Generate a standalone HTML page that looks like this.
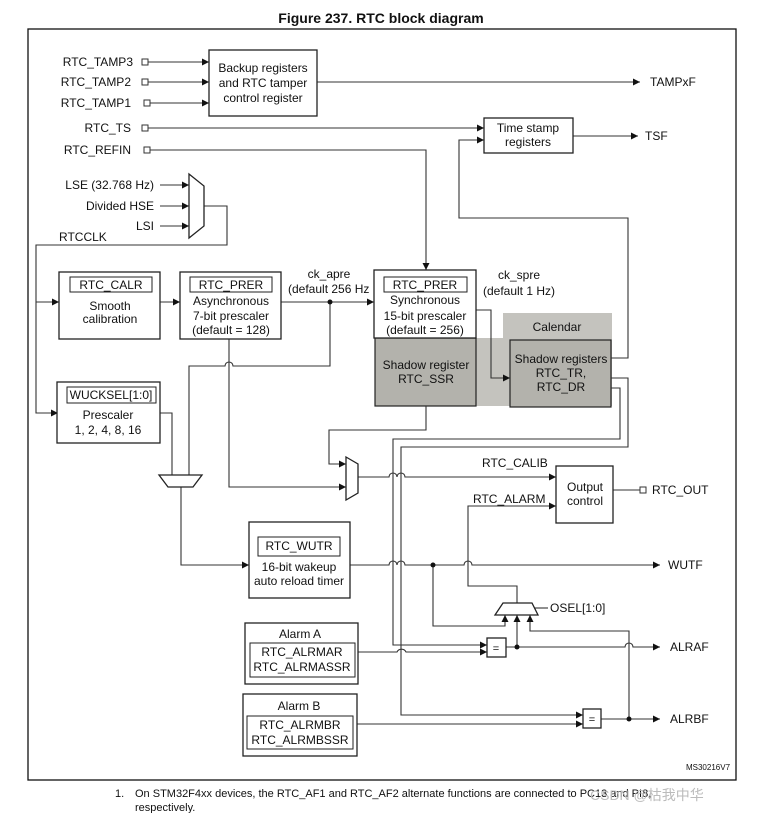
<!DOCTYPE html>
<html><head><meta charset="utf-8"><style>
html,body{margin:0;padding:0;background:#fff;}
svg{display:block;font-family:"Liberation Sans",Arial,sans-serif;}
text{font-size:12px;fill:#111;}
</style></head><body>
<svg width="763" height="813" viewBox="0 0 763 813" xmlns="http://www.w3.org/2000/svg">
<defs>
<marker id="a" viewBox="0 0 10 10" refX="10" refY="5" markerWidth="7" markerHeight="7" orient="auto" markerUnits="userSpaceOnUse"><path d="M0,0L10,5L0,10z" fill="#111"/></marker>
</defs>
<text x="381" y="23" text-anchor="middle" style="font-size:14px;font-weight:bold">Figure 237. RTC block diagram</text>
<rect x="28" y="29" width="708" height="751" fill="none" stroke="#111" stroke-width="1.3"/>

<!-- gray regions -->
<rect x="476" y="338" width="136" height="68" fill="#c4c3be"/>
<rect x="503" y="313" width="109" height="26" fill="#c4c3be"/>
<rect x="375" y="338" width="101" height="68" fill="#b3b2ac" stroke="#222" stroke-width="1.2"/>
<rect x="510" y="340" width="101" height="67" fill="#b3b2ac" stroke="#222" stroke-width="1.2"/>
<text x="557" y="331" text-anchor="middle">Calendar</text>
<text x="426" y="369" text-anchor="middle">Shadow register</text>
<text x="426" y="383" text-anchor="middle">RTC_SSR</text>
<text x="561" y="363" text-anchor="middle">Shadow registers</text>
<text x="561" y="377" text-anchor="middle">RTC_TR,</text>
<text x="561" y="391" text-anchor="middle">RTC_DR</text>

<g fill="none" stroke="#333" stroke-width="1.1">
<!-- tamper inputs -->
<path d="M148 62H209" marker-end="url(#a)"/>
<path d="M148 82H209" marker-end="url(#a)"/>
<path d="M150 103H209" marker-end="url(#a)"/>
<path d="M317 82H640" marker-end="url(#a)"/>
<path d="M148 128H484" marker-end="url(#a)"/>
<path d="M150 150H426V270" marker-end="url(#a)"/>
<path d="M573 136H638" marker-end="url(#a)"/>
<path d="M611 358H628V218H459V140H484" marker-end="url(#a)"/>
<!-- clock mux -->
<path d="M160 185H189" marker-end="url(#a)"/>
<path d="M160 206H189" marker-end="url(#a)"/>
<path d="M160 226H189" marker-end="url(#a)"/>
<path d="M204 206H227V245H36V413H58" marker-end="url(#a)"/>
<path d="M36 302H59" marker-end="url(#a)"/>
<path d="M160 302H180" marker-end="url(#a)"/>
<path d="M281 302H374" marker-end="url(#a)"/>
<path d="M476 310H491V378H510" marker-end="url(#a)"/>
<!-- ck_apre to wakeup mux -->
<path d="M330 302V366H233a4 4 0 0 0 -8 0H189V475"/>
<path d="M160 413H172V475"/>
<path d="M229 339V487H346" marker-end="url(#a)"/>
<path d="M426 406V430H329V464H346" marker-end="url(#a)"/>
<path d="M181 487V565H249" marker-end="url(#a)"/>
<!-- calendar outputs -->
<path d="M611 378H628V447H401V715H583" marker-end="url(#a)"/>
<path d="M611 388H620V439H393V645H487" marker-end="url(#a)"/>
<!-- calib -->
<path d="M358 477H389a4 4 0 0 1 8 0H397a4 4 0 0 1 8 0H556" marker-end="url(#a)"/>
<path d="M350 565H389a4 4 0 0 1 8 0H397a4 4 0 0 1 8 0H464a4 4 0 0 1 8 0H660" marker-end="url(#a)"/>
<path d="M517 603V586H468V506H556" marker-end="url(#a)"/>
<path d="M613 490H640"/>
<path d="M433 565V626H505V615" marker-end="url(#a)"/>
<path d="M517 647V615" marker-end="url(#a)"/>
<path d="M629 719V631H530V615" marker-end="url(#a)"/>
<path d="M532 608H548"/>
<!-- alarms -->
<path d="M358 652H397a5 5 0 0 1 9 0H487" marker-end="url(#a)"/>
<path d="M357 724H583" marker-end="url(#a)"/>
<path d="M506 647H625a4 4 0 0 1 8 0H660" marker-end="url(#a)"/>
<path d="M601 719H660" marker-end="url(#a)"/>
</g>
<g fill="#111">
<circle cx="330" cy="302" r="2.5"/><circle cx="433" cy="565" r="2.5"/>
<circle cx="517" cy="647" r="2.5"/><circle cx="629" cy="719" r="2.5"/>
</g>

<!-- pads -->
<g fill="#fff" stroke="#333" stroke-width="1">
<rect x="142" y="59" width="6" height="6"/><rect x="142" y="79" width="6" height="6"/>
<rect x="144" y="100" width="6" height="6"/><rect x="142" y="125" width="6" height="6"/>
<rect x="144" y="147" width="6" height="6"/><rect x="640" y="487" width="6" height="6"/>
</g>

<!-- boxes -->
<g fill="#fff" stroke="#222" stroke-width="1.3">
<rect x="209" y="50" width="108" height="66"/>
<rect x="484" y="118" width="89" height="35"/>
<rect x="59" y="272" width="101" height="67"/>
<rect x="180" y="272" width="101" height="67"/>
<rect x="374" y="270" width="102" height="68"/>
<rect x="57" y="382" width="103" height="61"/>
<rect x="249" y="522" width="101" height="76"/>
<rect x="556" y="466" width="57" height="57"/>
<rect x="245" y="623" width="113" height="61"/>
<rect x="243" y="694" width="114" height="62"/>
<rect x="487" y="638" width="19" height="19"/>
<rect x="583" y="709" width="18" height="19"/>
<path d="M189 174L204 186V226L189 238Z"/>
<path d="M346 457L358 464V493L346 500Z"/>
<path d="M159 475H202L193 487H168Z"/>
<path d="M503 603H532L538 615H495Z"/>
</g>
<g fill="none" stroke="#222" stroke-width="1">
<rect x="70" y="277" width="82" height="15"/>
<rect x="190" y="277" width="82" height="15"/>
<rect x="384" y="277" width="83" height="15"/>
<rect x="67" y="387" width="89" height="16"/>
<rect x="258" y="537" width="82" height="19"/>
<rect x="250" y="643" width="105" height="34"/>
<rect x="247" y="716" width="106" height="33"/>
</g>

<text x="263" y="72" text-anchor="middle">Backup registers</text>
<text x="263" y="87" text-anchor="middle">and RTC tamper</text>
<text x="263" y="102" text-anchor="middle">control register</text>
<text x="133" y="66" text-anchor="end">RTC_TAMP3</text>
<text x="131" y="86" text-anchor="end">RTC_TAMP2</text>
<text x="131" y="107" text-anchor="end">RTC_TAMP1</text>
<text x="131" y="132" text-anchor="end">RTC_TS</text>
<text x="131" y="154" text-anchor="end">RTC_REFIN</text>
<text x="650" y="86">TAMPxF</text>
<text x="528" y="132" text-anchor="middle">Time stamp</text>
<text x="528" y="146" text-anchor="middle">registers</text>
<text x="645" y="140">TSF</text>
<text x="154" y="189" text-anchor="end">LSE (32.768 Hz)</text>
<text x="154" y="210" text-anchor="end">Divided HSE</text>
<text x="154" y="230" text-anchor="end">LSI</text>
<text x="59" y="241">RTCCLK</text>
<text x="111" y="289" text-anchor="middle">RTC_CALR</text>
<text x="110" y="310" text-anchor="middle">Smooth</text>
<text x="110" y="323" text-anchor="middle">calibration</text>
<text x="231" y="289" text-anchor="middle">RTC_PRER</text>
<text x="231" y="305" text-anchor="middle">Asynchronous</text>
<text x="231" y="320" text-anchor="middle">7-bit prescaler</text>
<text x="231" y="334" text-anchor="middle">(default = 128)</text>
<text x="329" y="278" text-anchor="middle">ck_apre</text>
<text x="288" y="293">(default 256 Hz</text>
<text x="425" y="289" text-anchor="middle">RTC_PRER</text>
<text x="425" y="304" text-anchor="middle">Synchronous</text>
<text x="425" y="320" text-anchor="middle">15-bit prescaler</text>
<text x="425" y="334" text-anchor="middle">(default = 256)</text>
<text x="519" y="279" text-anchor="middle">ck_spre</text>
<text x="519" y="295" text-anchor="middle">(default 1 Hz)</text>
<text x="111" y="399" text-anchor="middle">WUCKSEL[1:0]</text>
<text x="108" y="419" text-anchor="middle">Prescaler</text>
<text x="108" y="434" text-anchor="middle">1, 2, 4, 8, 16</text>
<text x="482" y="467">RTC_CALIB</text>
<text x="473" y="503">RTC_ALARM</text>
<text x="585" y="491" text-anchor="middle">Output</text>
<text x="585" y="505" text-anchor="middle">control</text>
<text x="652" y="494">RTC_OUT</text>
<text x="299" y="550" text-anchor="middle">RTC_WUTR</text>
<text x="299" y="571" text-anchor="middle">16-bit wakeup</text>
<text x="299" y="585" text-anchor="middle">auto reload timer</text>
<text x="668" y="569">WUTF</text>
<text x="550" y="612">OSEL[1:0]</text>
<text x="300" y="638" text-anchor="middle">Alarm A</text>
<text x="302" y="656" text-anchor="middle">RTC_ALRMAR</text>
<text x="302" y="671" text-anchor="middle">RTC_ALRMASSR</text>
<text x="299" y="710" text-anchor="middle">Alarm B</text>
<text x="300" y="729" text-anchor="middle">RTC_ALRMBR</text>
<text x="300" y="744" text-anchor="middle">RTC_ALRMBSSR</text>
<text x="496" y="652" text-anchor="middle" style="font-size:11px">=</text>
<text x="592" y="723" text-anchor="middle" style="font-size:11px">=</text>
<text x="670" y="651">ALRAF</text>
<text x="670" y="723">ALRBF</text>
<text x="708" y="770" text-anchor="middle" style="font-size:8px">MS30216V7</text>
<text x="115" y="797" style="font-size:11px">1.</text>
<text x="135" y="797" style="font-size:11px">On STM32F4xx devices, the RTC_AF1 and RTC_AF2 alternate functions are connected to PC13 and PI8,</text>
<text x="135" y="811" style="font-size:11px">respectively.</text>
<text x="590" y="800" style="font-size:14px;fill:#bbb;font-family:'Liberation Sans','Noto Sans CJK SC',sans-serif">CSDN @枯我中华</text>
</svg>
</body></html>
